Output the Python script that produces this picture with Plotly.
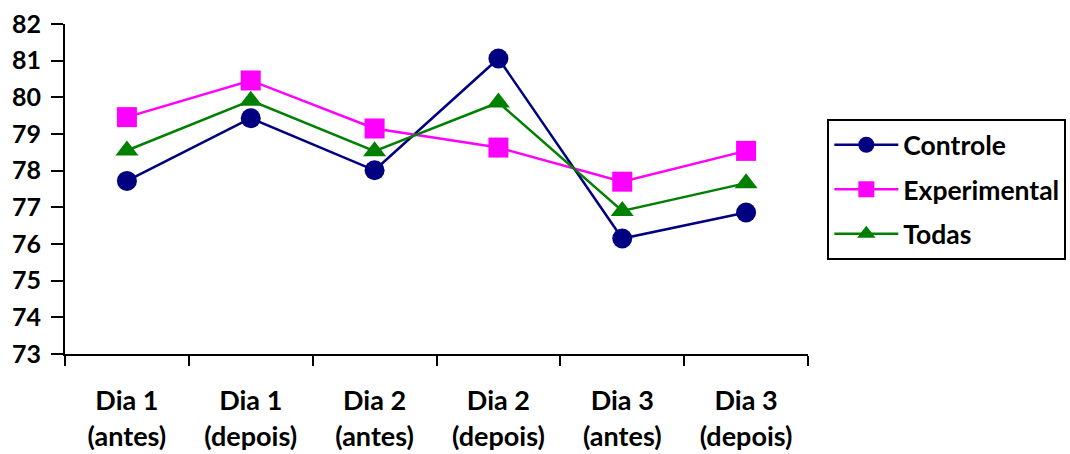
import plotly.graph_objects as go

categories = ["Dia 1<br>(antes)", "Dia 1<br>(depois)", "Dia 2<br>(antes)",
              "Dia 2<br>(depois)", "Dia 3<br>(antes)", "Dia 3<br>(depois)"]
controle = [77.72, 79.43, 78.01, 81.06, 76.15, 76.86]
experimental = [79.46, 80.46, 79.15, 78.63, 77.70, 78.54]
todas = [78.55, 79.91, 78.53, 79.86, 76.90, 77.66]
y_ticks = list(range(73, 83))

FONT = "Lato"

series = [
    ("Controle", controle, "#000080", "circle"),
    ("Experimental", experimental, "#FF00FF", "square"),
    ("Todas", todas, "#008000", "triangle-up"),
]

fig = go.Figure()
for name, vals, color, sym in series:
    fig.add_trace(go.Scatter(
        x=categories, y=vals, name=name, mode="lines+markers",
        line=dict(color=color, width=2.5),
        marker=dict(symbol=sym, size=20, color=color, line=dict(width=0)),
        legendgroup=name,
    ))

fig.update_layout(
    width=1070, height=454,
    margin=dict(l=65, r=262, t=24, b=100, autoexpand=False),
    paper_bgcolor="white", plot_bgcolor="white",
    font=dict(family=FONT, size=22, color="black"),
    showlegend=True,
    legend=dict(
        x=1.026, y=0.712, xanchor="left", yanchor="top",
        bordercolor="black", borderwidth=2,
        font=dict(family=FONT, size=26.5, color="black", weight="bold"),
        itemwidth=64, tracegroupgap=7,
    ),
)
fig.update_xaxes(
    type="category", categoryorder="array", categoryarray=categories,
    tickmode="array", tickvals=categories, ticktext=[f"<b>{c}</b>" for c in categories],
    range=[-0.5, 5.5], showline=True, linecolor="black", linewidth=2,
    ticks="outside", ticklen=10, tickwidth=2, tickcolor="black",
    tickson="boundaries", ticklabelstandoff=22,
    showgrid=False, zeroline=False,
    tickfont=dict(family=FONT, size=27, color="black"),
)
fig.update_yaxes(
    range=[73, 82], tickmode="array", tickvals=y_ticks, ticktext=[f"<b>{t}</b>" for t in y_ticks],
    showline=True, linecolor="black", linewidth=2,
    ticks="outside", ticklen=12, tickwidth=2, tickcolor="black",
    ticklabelstandoff=5,
    showgrid=False, zeroline=False,
    tickfont=dict(family=FONT, size=25, color="black"),
)

fig.write_html("out.html")
